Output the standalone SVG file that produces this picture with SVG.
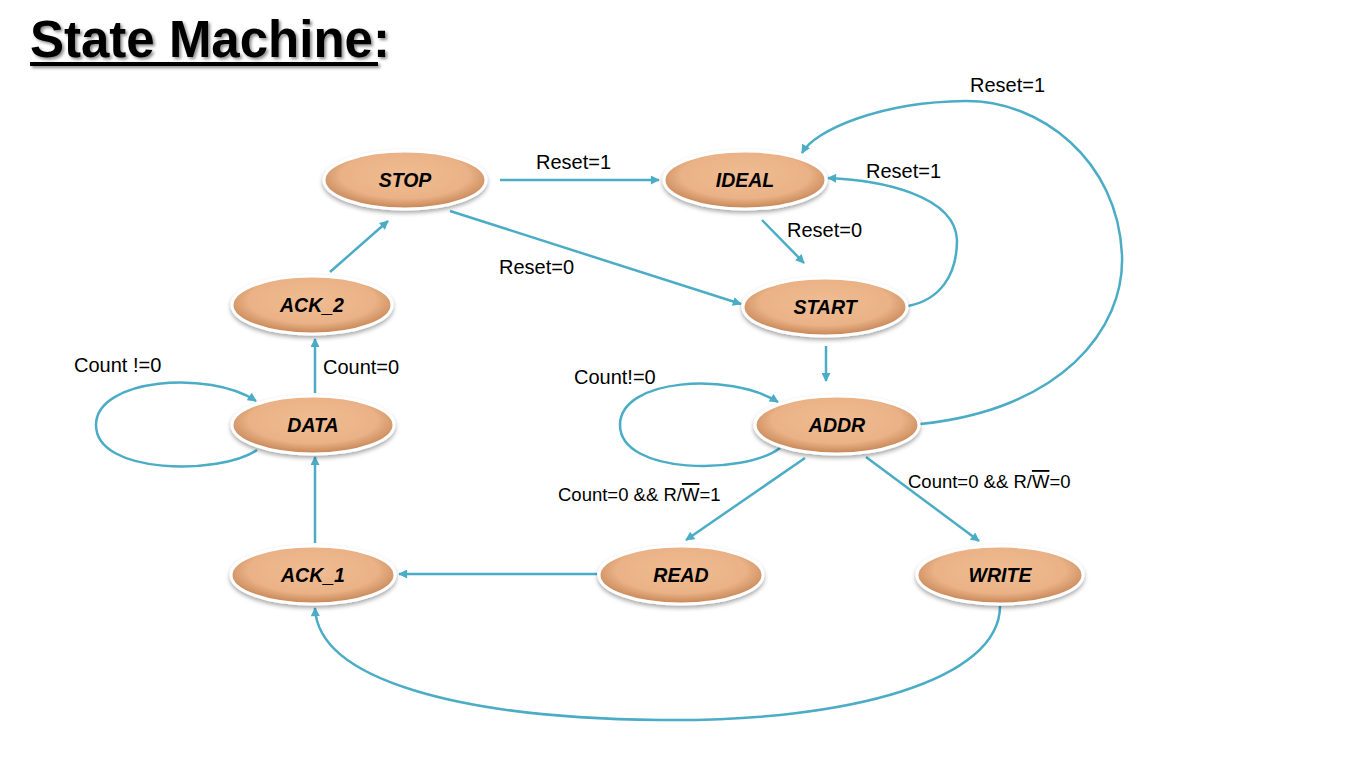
<svg xmlns="http://www.w3.org/2000/svg" width="1350" height="761" viewBox="0 0 1350 761">
<defs>
<radialGradient id="nodeFill" cx="50%" cy="42%" r="55%">
<stop offset="0" stop-color="#F0BC93"/>
<stop offset="0.72" stop-color="#EAB286"/>
<stop offset="1" stop-color="#C98A5B"/>
</radialGradient>
<filter id="shadow" x="-20%" y="-30%" width="140%" height="170%">
<feDropShadow dx="0" dy="2.5" stdDeviation="2" flood-color="#000" flood-opacity="0.35"/>
</filter>
<filter id="tshadow" x="-5%" y="-20%" width="110%" height="150%">
<feDropShadow dx="2" dy="2" stdDeviation="1.5" flood-color="#000" flood-opacity="0.45"/>
</filter>
<marker id="arrow" viewBox="0 0 10 10" refX="9" refY="5" markerWidth="10" markerHeight="9" markerUnits="userSpaceOnUse" orient="auto">
<path d="M0,0 L10,5 L0,10 z" fill="#4BACC6"/>
</marker>
</defs>
<style>
.node ellipse{fill:url(#nodeFill);stroke:#FFFFFF;stroke-width:3;filter:url(#shadow)}
.node text{font-family:"Liberation Sans",Arial,sans-serif;font-weight:bold;font-style:italic;font-size:19.5px;fill:#000;text-anchor:middle;dominant-baseline:central}
.edge{fill:none;stroke:#4BACC6;stroke-width:2.5;marker-end:url(#arrow)}
.lbl{font-family:"Liberation Sans",Arial,sans-serif;font-size:20px;fill:#000}
.lbl2{font-family:"Liberation Sans",Arial,sans-serif;font-size:18.5px;fill:#000}
.ov{text-decoration:overline}
</style>
<rect width="1350" height="761" fill="#FFFFFF"/>

<g id="title" filter="url(#tshadow)">
<text x="30" y="57" font-family="'Liberation Sans',Arial,sans-serif" font-weight="bold" font-size="51" fill="#000">State Machine:</text>
<rect x="30" y="62" width="348" height="4" fill="#000"/>
</g>

<g id="connectors">
<path class="edge" d="M500,180 L659,180"/>
<path class="edge" d="M450,211 L741,304"/>
<path class="edge" d="M762,220 L804,263"/>
<path class="edge" d="M908,306 C940,300 957,275 957,240 C955,195 880,180 828,178"/>
<path class="edge" d="M920,424 C1060,410 1125,330 1122,255 C1118,160 1040,100 965,101 C880,102 815,130 802,153"/>
<path class="edge" d="M826,346 L826,381"/>
<path class="edge" d="M330,272 L388,221"/>
<path class="edge" d="M315,393 L315,339"/>
<path class="edge" d="M257,450 C220,475 96,475 96,425 C96,378 210,370 256,401"/>
<path class="edge" d="M315,543 L315,457"/>
<path class="edge" d="M597,574 L399,574"/>
<path class="edge" d="M805,458 L686,540"/>
<path class="edge" d="M866,457 L979,541"/>
<path class="edge" d="M780,448 C745,475 620,475 620,425 C620,378 730,372 778,402"/>
<path class="edge" d="M1000,606 C1000,680 850,722 660,720 C460,718 318,680 315,608"/>
</g>

<g id="labels">
<text class="lbl" x="536" y="169">Reset=1</text>
<text class="lbl" x="499" y="274">Reset=0</text>
<text class="lbl" x="787" y="237">Reset=0</text>
<text class="lbl" x="866" y="178">Reset=1</text>
<text class="lbl" x="970" y="92">Reset=1</text>
<text class="lbl" x="74" y="372">Count !=0</text>
<text class="lbl" x="323" y="374">Count=0</text>
<text class="lbl" x="574" y="384">Count!=0</text>
<text class="lbl2" x="558" y="501">Count=0 &amp;&amp; R/<tspan class="ov">W</tspan>=1</text>
<text class="lbl2" x="908" y="488">Count=0 &amp;&amp; R/<tspan class="ov">W</tspan>=0</text>
</g>

<g id="node-stop" class="node"><ellipse cx="405" cy="180" rx="81" ry="29"/><text x="405" y="180">STOP</text></g>
<g id="node-ideal" class="node"><ellipse cx="745" cy="180" rx="81" ry="29"/><text x="745" y="180">IDEAL</text></g>
<g id="node-start" class="node"><ellipse cx="825" cy="307" rx="82" ry="29"/><text x="825" y="307">START</text></g>
<g id="node-ack2" class="node"><ellipse cx="312" cy="305" rx="80" ry="29"/><text x="312" y="305">ACK_2</text></g>
<g id="node-data" class="node"><ellipse cx="313" cy="425" rx="81" ry="29"/><text x="313" y="425">DATA</text></g>
<g id="node-addr" class="node"><ellipse cx="837" cy="425" rx="82" ry="29"/><text x="837" y="425">ADDR</text></g>
<g id="node-ack1" class="node"><ellipse cx="313" cy="575" rx="82" ry="29"/><text x="313" y="575">ACK_1</text></g>
<g id="node-read" class="node"><ellipse cx="681" cy="575" rx="82" ry="29"/><text x="681" y="575">READ</text></g>
<g id="node-write" class="node"><ellipse cx="1000" cy="575" rx="83" ry="29"/><text x="1000" y="575">WRITE</text></g>
</svg>
